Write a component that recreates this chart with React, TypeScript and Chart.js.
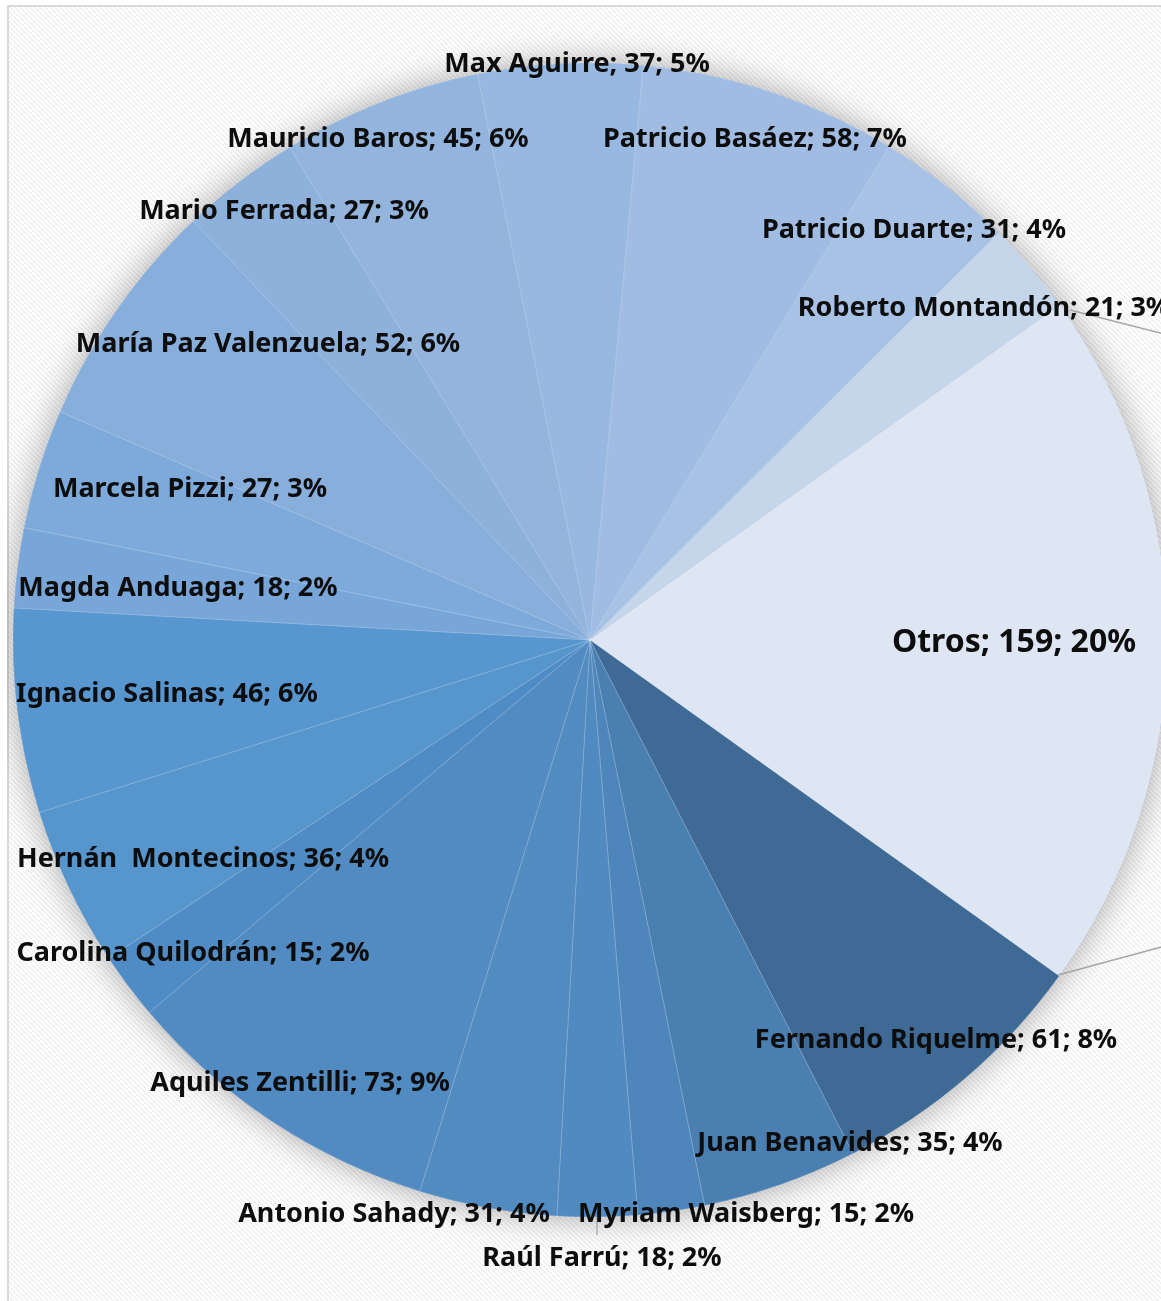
import React, { useEffect, useRef } from "react";
import { Chart, registerables } from "chart.js";

Chart.register(...registerables);

// ---- data (clockwise, starting with "Otros") ----
const names = [
  "Otros",
  "Fernando Riquelme",
  "Juan Benavides",
  "Myriam Waisberg",
  "Raúl Farrú",
  "Antonio Sahady",
  "Aquiles Zentilli",
  "Carolina Quilodrán",
  "Hernán  Montecinos",
  "Ignacio Salinas",
  "Magda Anduaga",
  "Marcela Pizzi",
  "María Paz Valenzuela",
  "Mario Ferrada",
  "Mauricio Baros",
  "Max Aguirre",
  "Patricio Basáez",
  "Patricio Duarte",
  "Roberto Montandón",
];
const values = [159, 61, 35, 15, 18, 31, 73, 15, 36, 46, 18, 27, 52, 27, 45, 37, 58, 31, 21];

const sliceColors = [
  "#dfe6f3",
  "#3f6a96",
  "#4a7fb1",
  "#4e86bc",
  "#508ac0",
  "#518bc0",
  "#518bc1",
  "#4f8bc4",
  "#5795cd",
  "#5796cf",
  "#78a6d9",
  "#7eaadb",
  "#88aedb",
  "#8eb1dc",
  "#93b4dd",
  "#97b8e0",
  "#a0bce2",
  "#a8c2e5",
  "#c5d5ea",
];

// label centres relative to the pie centre (layout only)
const labelOffsets: [number, number][] = [
  [424, 3],
  [346, 400],
  [260, 503],
  [156, 574],
  [12, 618],
  [-196, 574],
  [-290, 443],
  [-397, 313],
  [-387, 219],
  [-423, 54],
  [-412, -52],
  [-400, -151],
  [-322, -296],
  [-306, -429],
  [-212, -501],
  [-13, -576],
  [165, -501],
  [324, -410],
  [394, -332],
];

// leader lines relative to the pie centre (layout only)
const leaders: [number, number, number, number][] = [
  [468, 335, 575, 306],
  [7, 577, 7, 595],
  [480, -330, 590, -302],
];

const FONT = "'Noto Sans', 'Liberation Sans', sans-serif";

const decorPlugin = {
  id: "decor",
  beforeDraw(chart: any) {
    const { ctx, width, height } = chart;
    ctx.save();
    ctx.fillStyle = "#ffffff";
    ctx.fillRect(0, 0, width, height);
    const tile = document.createElement("canvas");
    tile.width = 5;
    tile.height = 5;
    const tc = tile.getContext("2d")!;
    tc.fillStyle = "#f0f0f0";
    for (let i = 0; i < 5; i++) {
      tc.fillRect(i, i, 1, 1);
      tc.fillRect((i + 1) % 5, i, 1, 1);
    }
    const pat = ctx.createPattern(tile, "repeat");
    if (pat) {
      ctx.fillStyle = pat;
      ctx.fillRect(0, 0, width, height);
    }
    ctx.strokeStyle = "#d9d9d9";
    ctx.lineWidth = 2;
    ctx.beginPath();
    ctx.moveTo(1, height);
    ctx.lineTo(1, 1);
    ctx.lineTo(width, 1);
    ctx.stroke();
    ctx.restore();
  },
  beforeDatasetsDraw(chart: any) {
    const arc = chart.getDatasetMeta(0).data[0];
    if (!arc) return;
    const { ctx } = chart;
    ctx.save();
    ctx.shadowColor = "rgba(0,0,0,0.35)";
    ctx.shadowBlur = 34;
    ctx.fillStyle = "#6f9bd0";
    ctx.beginPath();
    ctx.arc(arc.x, arc.y, arc.outerRadius, 0, Math.PI * 2);
    ctx.fill();
    ctx.restore();
  },
  afterDatasetsDraw(chart: any) {
    const meta = chart.getDatasetMeta(0);
    const arc0 = meta.data[0];
    if (!arc0) return;
    const cx = arc0.x;
    const cy = arc0.y;
    const { ctx } = chart;
    const data: number[] = chart.data.datasets[0].data;
    const total = data.reduce((a: number, b: number) => a + b, 0);
    ctx.save();
    ctx.strokeStyle = "#a6a6a6";
    ctx.lineWidth = 1.3;
    leaders.forEach(([x1, y1, x2, y2]) => {
      ctx.beginPath();
      ctx.moveTo(cx + x1, cy + y1);
      ctx.lineTo(cx + x2, cy + y2);
      ctx.stroke();
    });
    ctx.fillStyle = "#0d0d0d";
    ctx.textAlign = "center";
    ctx.textBaseline = "middle";
    chart.data.labels.forEach((name: string, i: number) => {
      const pct = Math.round((data[i] / total) * 100);
      const text = `${name}; ${data[i]}; ${pct}%`;
      ctx.font = `bold ${i === 0 ? 32 : 27}px ${FONT}`;
      const [dx, dy] = labelOffsets[i];
      ctx.fillText(text, cx + dx, cy + dy);
    });
    ctx.restore();
  },
};

export default function App() {
  const ref = useRef<HTMLCanvasElement>(null);
  useEffect(() => {
    document.documentElement.style.overflow = "hidden";
    document.body.style.overflow = "hidden";
    const chart = new Chart(ref.current!, {
      type: "pie",
      data: {
        labels: names,
        datasets: [
          {
            data: values,
            backgroundColor: sliceColors,
            borderColor: "rgba(255,255,255,0.18)",
            borderWidth: 1,
          },
        ],
      },
      options: {
        animation: false,
        responsive: false,
        rotation: 54.5,
        radius: 577,
        layout: { padding: { left: 6, right: 10, top: 58, bottom: 84 } },
        plugins: {
          legend: { display: false },
          tooltip: { enabled: false },
        },
        events: [],
      },
      plugins: [decorPlugin],
    });
    return () => chart.destroy();
  }, []);
  return (
    <div
      style={{
        position: "fixed",
        left: 7,
        top: 5,
        width: 1154,
        height: 1296,
        overflow: "hidden",
      }}
    >
      <canvas ref={ref} width={1170} height={1296} style={{ display: "block" }} />
    </div>
  );
}
